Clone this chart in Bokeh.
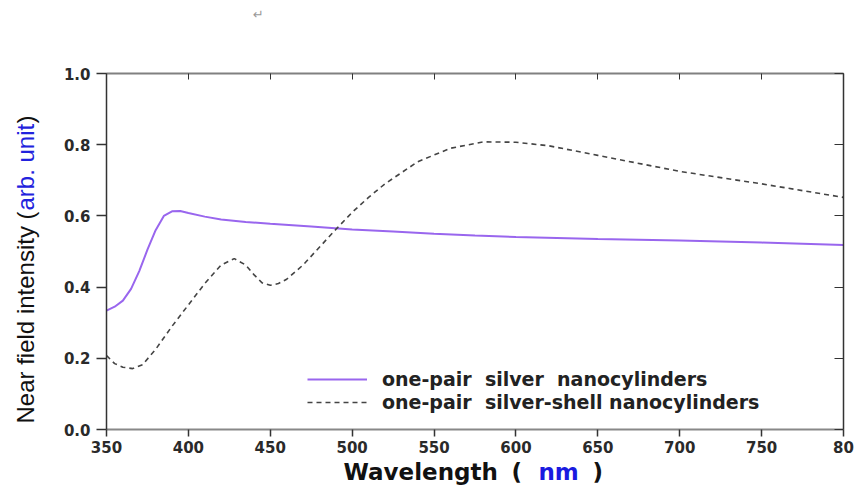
from bokeh.plotting import figure
from bokeh.models import LinearAxis, Label, Legend, LegendItem, FixedTicker, Range1d, CustomJSTickFormatter
from bokeh.embed import file_html
from bokeh.resources import INLINE
import math

# Data
wl_silver = [350, 355, 360, 365, 370, 375, 380, 385, 390, 395, 400, 410, 420, 435, 450,
             475, 500, 525, 550, 575, 600, 625, 650, 675, 700, 725, 750, 775, 800]
int_silver = [0.334, 0.345, 0.362, 0.395, 0.445, 0.505, 0.560, 0.600, 0.613, 0.614, 0.608,
              0.598, 0.590, 0.583, 0.578, 0.570, 0.562, 0.556, 0.550, 0.545, 0.541, 0.538,
              0.535, 0.533, 0.531, 0.528, 0.525, 0.522, 0.518]

wl_shell = [350, 355, 360, 366, 372, 380, 390, 400, 410, 420, 428, 435, 440, 445, 450, 455,
            460, 470, 480, 490, 500, 510, 520, 540, 560, 580, 600, 620, 650, 700, 750, 800]
int_shell = [0.208, 0.185, 0.175, 0.171, 0.182, 0.225, 0.290, 0.350, 0.410, 0.462, 0.480,
             0.462, 0.435, 0.412, 0.405, 0.410, 0.422, 0.462, 0.512, 0.562, 0.610, 0.652,
             0.690, 0.752, 0.790, 0.808, 0.807, 0.797, 0.770, 0.725, 0.690, 0.652]

x_ticks = [350, 400, 450, 500, 550, 600, 650, 700, 750, 800]
y_ticks = [0.0, 0.2, 0.4, 0.6, 0.8, 1.0]
x_min, x_max = 350, 800
y_min, y_max = 0.0, 1.0
legend_labels = ["one-pair  silver  nanocylinders", "one-pair  silver-shell nanocylinders"]

# Canvas layout (pixels): plot box inside the canvas
W, H = 864, 488
box_left, box_right, box_top, box_bottom = 106, 843, 73, 429
xs = (x_max - x_min) / (box_right - box_left)
ys = (y_max - y_min) / (box_bottom - box_top)
x_range = Range1d(x_min - box_left * xs, x_max + (W - box_right) * xs)
y_range = Range1d(y_min - (H - box_bottom) * ys, y_max + box_top * ys)

p = figure(width=W, height=H, output_backend="svg", toolbar_location=None,
           x_range=x_range, y_range=y_range,
           min_border_left=0, min_border_right=0, min_border_top=0, min_border_bottom=0)
p.xgrid.visible = False
p.ygrid.visible = False
p.outline_line_color = None
p.background_fill_color = "white"
p.border_fill_color = "white"

r1 = p.line(wl_silver, int_silver, line_color="#9966ee", line_width=2)
r2 = p.line(wl_shell, int_shell, line_color="#444444", line_width=1.6, line_dash="5 4")

tick_font = "DejaVu Sans"
bx = p.xaxis[0]
ly = p.yaxis[0]
for ax in [bx, ly]:
    ax.major_label_text_font = tick_font
    ax.major_label_text_font_style = "bold"
    ax.major_label_text_font_size = "15px"
    ax.major_label_text_color = "#2a2a2a"
    ax.minor_tick_line_color = None
    ax.major_tick_in = 0
    ax.axis_line_color = "#333333"
    ax.axis_line_width = 1.5
    ax.major_tick_line_color = "#333333"
    ax.major_tick_line_width = 1.5
bx.fixed_location = y_min
bx.bounds = (x_min, x_max)
ly.fixed_location = x_min
ly.bounds = (y_min, y_max)
bx.major_tick_out = 7
bx.major_label_standoff = 4
ly.major_tick_out = 10
ly.major_label_standoff = 6
bx.axis_line_color = "#888888"
bx.axis_line_width = 2

bx.ticker = FixedTicker(ticks=x_ticks)
ly.ticker = FixedTicker(ticks=y_ticks)
ly.formatter = CustomJSTickFormatter(code="return tick.toFixed(1);")
bx.major_label_overrides = {800: "80"}

top = LinearAxis(ticker=FixedTicker(ticks=x_ticks), major_label_text_font_size="0px",
                 major_tick_in=6, major_tick_out=0, minor_tick_line_color=None,
                 axis_line_color="#808080", axis_line_width=2, major_tick_line_color="#333333",
                 fixed_location=y_max, bounds=(x_min, x_max))
right = LinearAxis(ticker=FixedTicker(ticks=y_ticks), major_label_text_font_size="0px",
                   major_tick_in=9, major_tick_out=0, minor_tick_line_color=None,
                   axis_line_color="#333333", axis_line_width=1.5, major_tick_line_color="#333333",
                   fixed_location=x_max, bounds=(y_min, y_max))
top.major_label_text_alpha = 0
right.major_label_text_alpha = 0
p.add_layout(top, "above")
p.add_layout(right, "right")

# Axis titles with coloured parts (screen units: frame == canvas, y from bottom)
ylab_font = "Liberation Sans"
ylab_x = 25
for txt, ypos, col in [("Near field intensity (", 423, "#111111"),
                       ("arb. unit", 210, "#2222dd"),
                       (")", 123, "#111111")]:
    p.add_layout(Label(x=ylab_x, y=H - ypos, x_units="screen", y_units="screen", angle=math.pi / 2,
                       text=txt, text_font=ylab_font, text_font_size="24px",
                       text_color=col, text_baseline="middle", text_align="left"))

xlab_font = "DejaVu Sans"
for txt, xpos, col in [("Wavelength", 343, "#111111"),
                       ("(", 511, "#111111"),
                       ("nm", 538, "#1a1ae0"),
                       (")", 592, "#111111")]:
    p.add_layout(Label(x=xpos, y=H - 471, x_units="screen", y_units="screen",
                       text=txt, text_font=xlab_font, text_font_size="23px",
                       text_font_style="bold", text_color=col, text_baseline="middle",
                       text_align="left"))

p.add_layout(Label(x=258, y=H - 14, x_units="screen", y_units="screen",
                   text="\u21b5", text_font="DejaVu Sans", text_font_size="13px",
                   text_color="#999999", text_baseline="middle", text_align="center"))

legend = Legend(items=[LegendItem(label=legend_labels[0], renderers=[r1]),
                       LegendItem(label=legend_labels[1], renderers=[r2])],
                location=(307, H - 413), orientation="vertical",
                border_line_alpha=0, background_fill_alpha=0,
                glyph_width=60, glyph_height=20, label_height=20, label_standoff=15, spacing=1,
                padding=0, margin=0,
                label_text_font="DejaVu Sans", label_text_font_style="bold",
                label_text_font_size="19px", label_text_color="#222222")
p.add_layout(legend)

open("out.html", "w").write(file_html(p, INLINE))
